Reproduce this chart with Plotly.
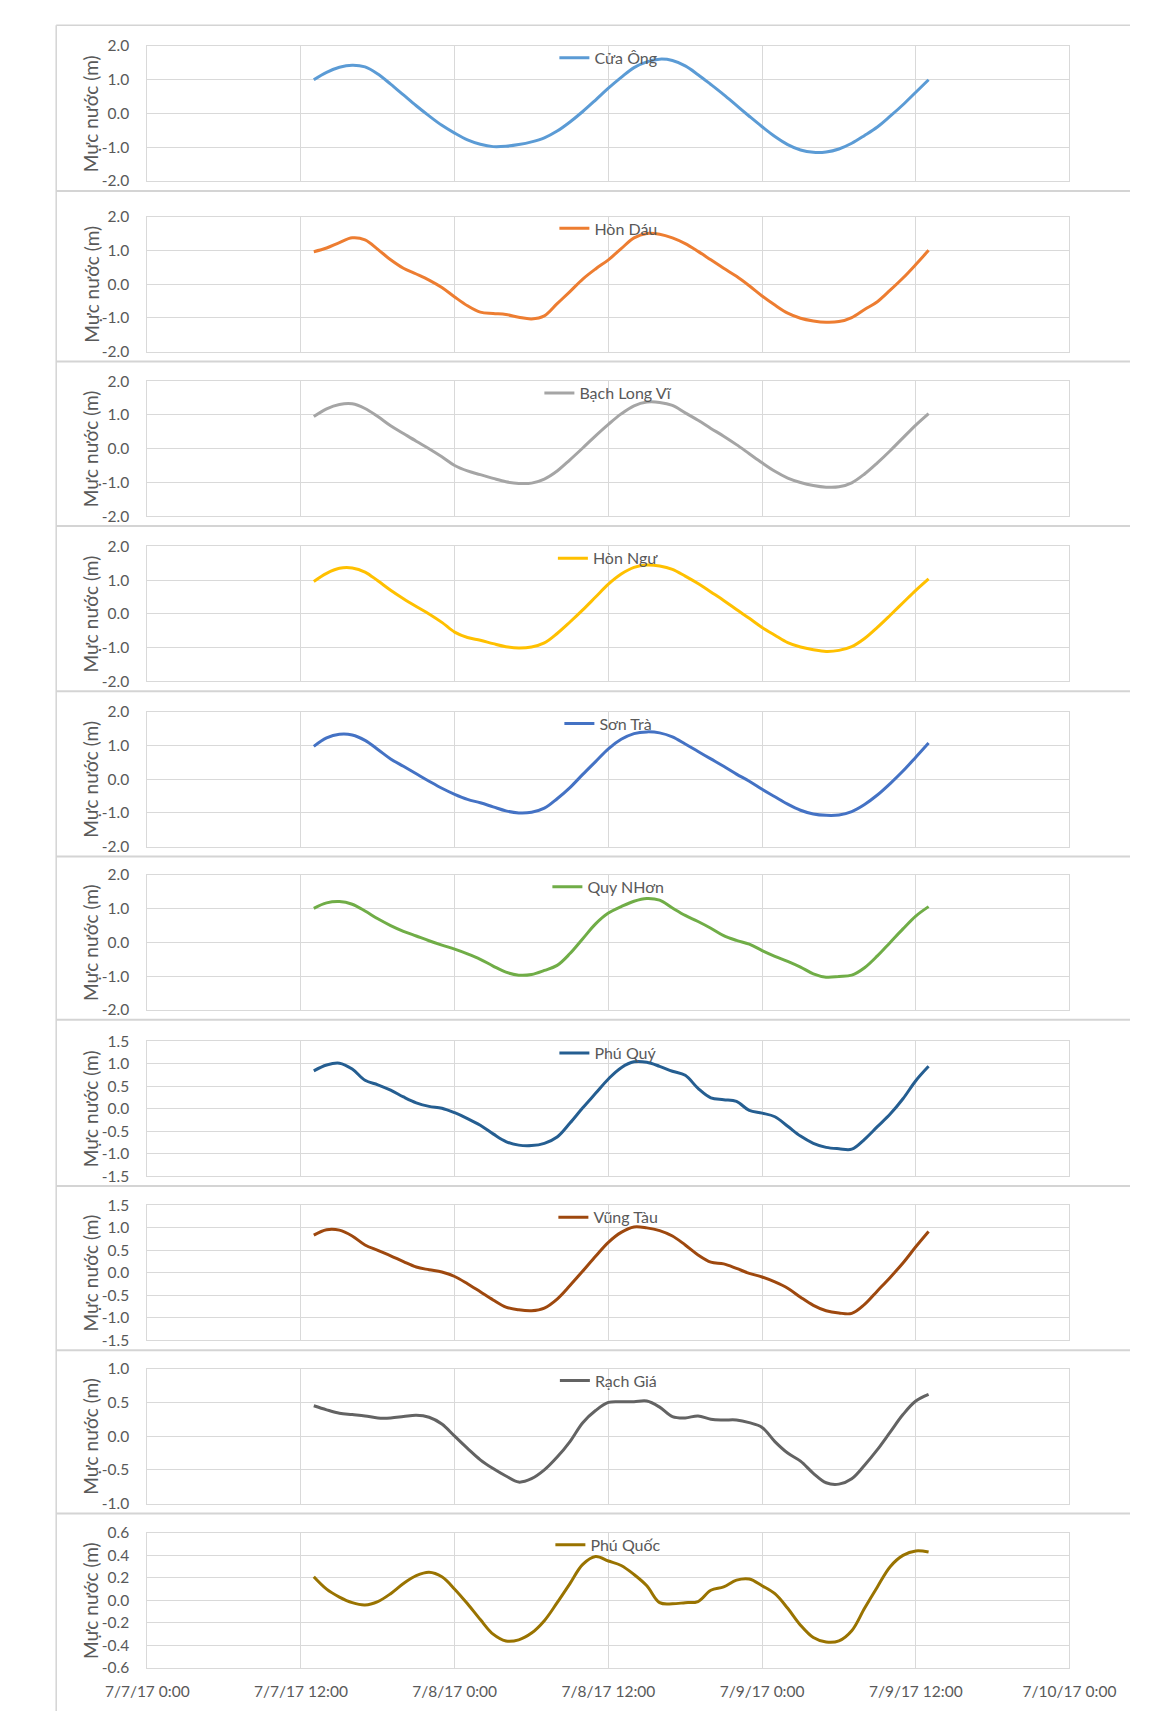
import pandas as pd
import plotly.graph_objects as go

# ---------------- data ----------------
times = pd.date_range("2017-07-07 13:00", "2017-07-09 13:00", freq="h")

station_names = ["Cửa Ông", "Hòn Dáu", "Bạch Long Vĩ", "Hòn Ngư", "Sơn Trà",
                 "Quy NHơn", "Phú Quý", "Vũng Tàu", "Rạch Giá", "Phú Quốc"]

cua_ong = [1.00, 1.22, 1.37, 1.43, 1.38, 1.17, 0.87, 0.55, 0.23, -0.07,
           -0.35, -0.58, -0.78, -0.91, -0.98, -0.97, -0.92, -0.84, -0.72, -0.52,
           -0.25, 0.06, 0.40, 0.75, 1.07, 1.36, 1.53, 1.61, 1.57, 1.41,
           1.15, 0.86, 0.56, 0.24, -0.08, -0.39, -0.68, -0.92, -1.08, -1.15,
           -1.14, -1.05, -0.88, -0.65, -0.40, -0.08, 0.26, 0.63, 1.00]
hon_dau = [0.96, 1.07, 1.23, 1.37, 1.31, 1.03, 0.72, 0.47, 0.30, 0.12,
           -0.10, -0.38, -0.64, -0.83, -0.87, -0.90, -0.98, -1.03, -0.94, -0.58,
           -0.22, 0.15, 0.45, 0.72, 1.05, 1.37, 1.50, 1.48, 1.37, 1.20,
           0.97, 0.72, 0.47, 0.23, -0.05, -0.35, -0.62, -0.86, -1.01, -1.09,
           -1.13, -1.11, -0.99, -0.75, -0.52, -0.18, 0.18, 0.58, 1.00]
bach_long_vi = [0.95, 1.18, 1.31, 1.33, 1.19, 0.95, 0.68, 0.45, 0.22, 0.00,
                -0.24, -0.50, -0.66, -0.77, -0.88, -0.98, -1.03, -1.02, -0.90, -0.66,
                -0.33, 0.02, 0.38, 0.72, 1.03, 1.27, 1.38, 1.37, 1.28, 1.06,
                0.84, 0.60, 0.37, 0.12, -0.15, -0.42, -0.67, -0.87, -1.00, -1.09,
                -1.14, -1.13, -1.01, -0.75, -0.42, -0.06, 0.32, 0.70, 1.04]
hon_ngu = [0.96, 1.20, 1.35, 1.36, 1.24, 0.98, 0.70, 0.45, 0.22, 0.00,
           -0.25, -0.54, -0.70, -0.78, -0.88, -0.97, -1.01, -0.98, -0.86, -0.58,
           -0.24, 0.12, 0.50, 0.88, 1.18, 1.38, 1.45, 1.42, 1.32, 1.12,
           0.90, 0.65, 0.40, 0.13, -0.13, -0.40, -0.63, -0.85, -0.98, -1.06,
           -1.11, -1.08, -0.97, -0.73, -0.40, -0.04, 0.33, 0.70, 1.04]
son_tra = [0.97, 1.22, 1.33, 1.31, 1.15, 0.88, 0.60, 0.38, 0.16, -0.06,
           -0.27, -0.45, -0.60, -0.70, -0.82, -0.94, -1.00, -0.98, -0.86, -0.58,
           -0.25, 0.14, 0.52, 0.90, 1.18, 1.35, 1.40, 1.37, 1.25, 1.04,
           0.82, 0.60, 0.38, 0.15, -0.06, -0.30, -0.52, -0.74, -0.92, -1.03,
           -1.07, -1.06, -0.96, -0.75, -0.47, -0.13, 0.24, 0.65, 1.07]
quy_nhon = [1.01, 1.17, 1.21, 1.13, 0.93, 0.70, 0.50, 0.33, 0.19, 0.05,
            -0.08, -0.20, -0.34, -0.50, -0.70, -0.88, -0.97, -0.95, -0.83, -0.68,
            -0.33, 0.11, 0.55, 0.87, 1.06, 1.22, 1.30, 1.25, 1.02, 0.80,
            0.62, 0.42, 0.20, 0.06, -0.05, -0.24, -0.41, -0.56, -0.73, -0.93,
            -1.03, -1.01, -0.97, -0.75, -0.40, 0.00, 0.40, 0.78, 1.06]
phu_quy = [0.84, 0.97, 1.01, 0.88, 0.63, 0.53, 0.41, 0.26, 0.13, 0.05,
           0.01, -0.09, -0.22, -0.37, -0.56, -0.73, -0.81, -0.82, -0.77, -0.63,
           -0.32, 0.02, 0.34, 0.66, 0.91, 1.04, 1.03, 0.94, 0.83, 0.74,
           0.45, 0.24, 0.20, 0.16, -0.04, -0.10, -0.18, -0.39, -0.61, -0.77,
           -0.86, -0.89, -0.90, -0.68, -0.40, -0.12, 0.22, 0.62, 0.94]
vung_tau = [0.84, 0.96, 0.95, 0.82, 0.62, 0.50, 0.38, 0.25, 0.13, 0.07,
            0.02, -0.08, -0.24, -0.42, -0.60, -0.76, -0.82, -0.84, -0.78, -0.58,
            -0.28, 0.04, 0.37, 0.68, 0.90, 1.02, 1.00, 0.94, 0.82, 0.62,
            0.40, 0.24, 0.20, 0.10, -0.01, -0.09, -0.20, -0.34, -0.54, -0.72,
            -0.84, -0.89, -0.90, -0.70, -0.40, -0.10, 0.22, 0.58, 0.92]
rach_gia = [0.45, 0.39, 0.34, 0.32, 0.30, 0.27, 0.27, 0.29, 0.31, 0.28,
            0.18, 0.00, -0.18, -0.35, -0.48, -0.59, -0.68, -0.63, -0.50, -0.31,
            -0.08, 0.20, 0.38, 0.50, 0.51, 0.51, 0.52, 0.43, 0.29, 0.27,
            0.30, 0.25, 0.24, 0.24, 0.20, 0.13, -0.08, -0.25, -0.37, -0.55,
            -0.69, -0.71, -0.63, -0.43, -0.20, 0.06, 0.32, 0.52, 0.62]
phu_quoc = [0.21, 0.10, 0.03, -0.02, -0.04, -0.01, 0.06, 0.15, 0.22, 0.25,
            0.21, 0.10, -0.03, -0.17, -0.30, -0.36, -0.35, -0.29, -0.18, -0.02,
            0.15, 0.32, 0.39, 0.35, 0.31, 0.23, 0.13, -0.02, -0.03, -0.02,
            -0.01, 0.09, 0.12, 0.18, 0.19, 0.13, 0.06, -0.07, -0.22, -0.33,
            -0.37, -0.36, -0.27, -0.07, 0.12, 0.30, 0.40, 0.44, 0.43]

series = [cua_ong, hon_dau, bach_long_vi, hon_ngu, son_tra,
          quy_nhon, phu_quy, vung_tau, rach_gia, phu_quoc]

ticks_2 = [-2.0, -1.0, 0.0, 1.0, 2.0]
ticks_15 = [-1.5, -1.0, -0.5, 0.0, 0.5, 1.0, 1.5]
ticks_1 = [-1.0, -0.5, 0.0, 0.5, 1.0]
ticks_06 = [-0.6, -0.4, -0.2, 0.0, 0.2, 0.4, 0.6]
tick_sets = [ticks_2] * 6 + [ticks_15, ticks_15, ticks_1, ticks_06]
tick_label_sets = [["%.1f" % v for v in t] for t in tick_sets]

y_title = "Mực nước (m)"

# ---------------- style / layout ----------------
colors = ["#5B9BD5", "#ED7D31", "#A5A5A5", "#FFC000", "#4472C4",
          "#70AD47", "#255E91", "#9E480E", "#636363", "#997300"]

W, H = 1169, 1711
plot_tops = [28.3, 200.7, 367, 534, 701, 866, 1034, 1200, 1365, 1531]
plot_h = 136.5
x_left, x_right = 105.3, 1103.5
grid_c = "#D9D9D9"
text_c = "#595959"
FONT = "Lato"
FS_TICK = 15.5
FS_LEG = 16
FS_TITLE = 19

fig = go.Figure()
layout = dict(
    width=W, height=H, margin=dict(l=0, r=0, t=0, b=0),
    paper_bgcolor="white", plot_bgcolor="white",
    font=dict(family=FONT, size=FS_TICK, color=text_c),
    showlegend=True,
)
annotations = []
shapes = []

for i, (name, vals) in enumerate(zip(station_names, series)):
    k = "" if i == 0 else str(i + 1)
    top = plot_tops[i]
    bot = top + plot_h
    y0 = 1 - bot / H
    y1 = 1 - top / H
    lg = "legend" + k
    fig.add_trace(go.Scatter(
        x=times, y=vals, name=name, mode="lines",
        line=dict(color=colors[i], width=3, shape="spline", smoothing=1.0),
        xaxis="x" + k, yaxis="y" + k, legend=lg, hoverinfo="x+y",
    ))
    tv = tick_sets[i]
    layout["xaxis" + k] = dict(
        domain=[x_left / W, x_right / W], anchor="y" + k,
        type="date", range=["2017-07-07 00:00", "2017-07-10 00:00"],
        tick0="2017-07-07 00:00", dtick=12 * 3600 * 1000,
        tickformat="%-m/%-d/%y %-H:%M",
        showgrid=True, gridcolor=grid_c, gridwidth=1,
        showline=True, mirror=True, linecolor=grid_c, linewidth=1,
        zeroline=False, ticks="outside", ticklen=9, tickcolor="rgba(0,0,0,0)",
        showticklabels=(i == 9),
        tickfont=dict(family=FONT, size=FS_TICK, color=text_c),
    )
    layout["yaxis" + k] = dict(
        domain=[y0, y1], anchor="x" + k,
        range=[tv[0], tv[-1]], tickvals=tv, ticktext=tick_label_sets[i],
        showgrid=True, gridcolor=grid_c, gridwidth=1,
        showline=True, mirror=True, linecolor=grid_c, linewidth=1,
        zeroline=False, ticks="outside", ticklen=14, tickcolor="rgba(0,0,0,0)",
        tickfont=dict(family=FONT, size=FS_TICK, color=text_c),
    )
    layout[lg] = dict(
        x=(x_left + x_right) / 2 / W, xanchor="center",
        y=1 - (top + 12) / H, yanchor="middle",
        orientation="h", bgcolor="rgba(0,0,0,0)",
        font=dict(family=FONT, size=FS_LEG, color=text_c),
        itemwidth=30,
    )
    annotations.append(dict(
        text=y_title, textangle=-90, showarrow=False,
        x=44 / W, y=1 - (top + plot_h / 2) / H, xref="paper", yref="paper",
        xanchor="center", yanchor="middle",
        font=dict(family=FONT, size=FS_TITLE, color=text_c),
    ))
    if i < 9:
        sep = bot + 10
        shapes.append(dict(type="line", xref="paper", yref="paper",
                           x0=6.7 / W, x1=1.0, y0=1 - sep / H, y1=1 - sep / H,
                           line=dict(color="#D4D4D4", width=2)))

# outer top and left borders
shapes.append(dict(type="line", xref="paper", yref="paper",
                   x0=6.7 / W, x1=1.0, y0=1 - 7.3 / H, y1=1 - 7.3 / H,
                   line=dict(color="#D4D4D4", width=1.5)))
shapes.append(dict(type="line", xref="paper", yref="paper",
                   x0=6.7 / W, x1=6.7 / W, y0=0, y1=1 - 7.3 / H,
                   line=dict(color="#D4D4D4", width=1.5)))

layout["annotations"] = annotations
layout["shapes"] = shapes
fig.update_layout(**layout)
fig.write_html("out.html")
